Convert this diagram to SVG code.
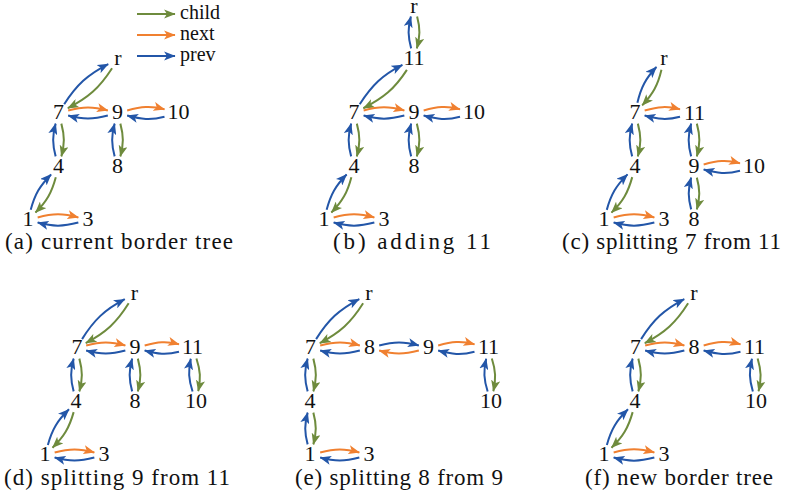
<svg xmlns="http://www.w3.org/2000/svg" width="787" height="502" viewBox="0 0 787 502" font-family="'Liberation Serif', 'Times New Roman', serif">
<style>
.g{fill:none;stroke:#6e8b3d;stroke-width:2;marker-end:url(#mg)}
.o{fill:none;stroke:#f08030;stroke-width:2;marker-end:url(#mo)}
.b{fill:none;stroke:#2356a8;stroke-width:2;marker-end:url(#mb)}
text{font-size:22px;fill:#111}
.n text{text-anchor:middle}
.leg{font-size:20px}
.cap{font-size:23px}
</style>
<defs>
<marker id="mg" viewBox="0 0 10 8" refX="9.5" refY="4" markerWidth="11.5" markerHeight="9.2" markerUnits="userSpaceOnUse" orient="auto"><path d="M0,0 L10,4 L0,8 L2.5,4 z" fill="#6e8b3d"/></marker>
<marker id="mo" viewBox="0 0 10 8" refX="9.5" refY="4" markerWidth="11.5" markerHeight="9.2" markerUnits="userSpaceOnUse" orient="auto"><path d="M0,0 L10,4 L0,8 L2.5,4 z" fill="#f08030"/></marker>
<marker id="mb" viewBox="0 0 10 8" refX="9.5" refY="4" markerWidth="11.5" markerHeight="9.2" markerUnits="userSpaceOnUse" orient="auto"><path d="M0,0 L10,4 L0,8 L2.5,4 z" fill="#2356a8"/></marker>
</defs>

<g id="legend">
<line class="g" x1="137" y1="14" x2="175" y2="14"/>
<line class="o" x1="137" y1="35" x2="175" y2="35"/>
<line class="b" x1="137" y1="56" x2="175" y2="56"/>
<text class="leg" x="180" y="19">child</text>
<text class="leg" x="180" y="40">next</text>
<text class="leg" x="180" y="61">prev</text>
</g>

<g id="connectors">
<!-- panel a -->
<g transform="translate(58.5,113) rotate(-42.2)"><path class="b" d="M10.14,-2.72 C32.68,-8.76 47.19,-8.89 69.72,-2.85"/><path class="g" d="M69.72,2.85 C47.19,8.89 32.68,8.76 10.14,2.72"/></g>
<g transform="translate(58.5,113)"><path class="o" d="M9.66,-2.59 C24.66,-6.61 34.34,-6.61 49.34,-2.59"/><path class="b" d="M49.34,2.59 C34.34,6.61 24.66,6.61 9.66,2.59"/></g>
<g transform="translate(117.5,113)"><path class="o" d="M9.66,-2.59 C23.77,-6.37 32.88,-7.54 46.99,-3.76"/><path class="b" d="M46.99,3.76 C32.88,7.54 23.77,6.37 9.66,2.59"/></g>
<g transform="translate(58.5,113) rotate(90)"><path class="g" d="M10.63,-2.85 C23.01,-6.17 30.99,-6.17 43.37,-2.85"/><path class="b" d="M43.37,2.85 C30.99,6.17 23.01,6.17 10.63,2.85"/></g>
<g transform="translate(117.5,113) rotate(90)"><path class="g" d="M10.63,-2.85 C23.01,-6.17 30.99,-6.17 43.37,-2.85"/><path class="b" d="M43.37,2.85 C30.99,6.17 23.01,6.17 10.63,2.85"/></g>
<g transform="translate(58.5,167) rotate(119.9)"><path class="g" d="M10.14,-2.72 C25.58,-6.86 35.52,-6.86 50.96,-2.72"/><path class="b" d="M50.96,2.72 C35.52,6.86 25.58,6.86 10.14,2.72"/></g>
<g transform="translate(28,220)"><path class="o" d="M9.66,-2.59 C25.05,-6.72 34.95,-6.72 50.34,-2.59"/><path class="b" d="M50.34,2.59 C34.95,6.72 25.05,6.72 9.66,2.59"/></g>
<!-- panel b -->
<g transform="translate(414,59) rotate(-90)"><path class="b" d="M10.63,-2.85 C22.64,-6.07 30.39,-6.33 42.41,-3.11"/><path class="g" d="M42.41,3.11 C30.39,6.33 22.64,6.07 10.63,2.85"/></g>
<g transform="translate(354,113) rotate(-42)"><path class="b" d="M10.14,-2.72 C32.08,-8.60 46.20,-9.25 68.14,-3.37"/><path class="g" d="M68.14,3.37 C46.20,9.25 32.08,8.60 10.14,2.72"/></g>
<g transform="translate(354,113)"><path class="o" d="M9.66,-2.59 C25.05,-6.72 34.95,-6.72 50.34,-2.59"/><path class="b" d="M50.34,2.59 C34.95,6.72 25.05,6.72 9.66,2.59"/></g>
<g transform="translate(414,113)"><path class="o" d="M9.66,-2.59 C23.40,-6.27 32.26,-7.44 45.99,-3.76"/><path class="b" d="M45.99,3.76 C32.26,7.44 23.40,6.27 9.66,2.59"/></g>
<g transform="translate(354,113) rotate(90)"><path class="g" d="M10.63,-2.85 C23.01,-6.17 30.99,-6.17 43.37,-2.85"/><path class="b" d="M43.37,2.85 C30.99,6.17 23.01,6.17 10.63,2.85"/></g>
<g transform="translate(414,113) rotate(90)"><path class="g" d="M10.63,-2.85 C23.01,-6.17 30.99,-6.17 43.37,-2.85"/><path class="b" d="M43.37,2.85 C30.99,6.17 23.01,6.17 10.63,2.85"/></g>
<g transform="translate(354,167) rotate(119.5)"><path class="g" d="M10.14,-2.72 C25.50,-6.84 35.40,-6.84 50.76,-2.72"/><path class="b" d="M50.76,2.72 C35.40,6.84 25.50,6.84 10.14,2.72"/></g>
<g transform="translate(324,220)"><path class="o" d="M9.66,-2.59 C25.05,-6.72 34.95,-6.72 50.34,-2.59"/><path class="b" d="M50.34,2.59 C34.95,6.72 25.05,6.72 9.66,2.59"/></g>
<!-- panel c -->
<g transform="translate(635,113) rotate(-61.8)"><path class="b" d="M10.14,-2.72 C25.47,-6.83 35.34,-6.96 50.67,-2.85"/><path class="g" d="M50.67,2.85 C35.34,6.96 25.47,6.83 10.14,2.72"/></g>
<g transform="translate(635,113)"><path class="o" d="M9.66,-2.59 C23.02,-6.17 31.63,-7.34 44.99,-3.76"/><path class="b" d="M44.99,3.76 C31.63,7.34 23.02,6.17 9.66,2.59"/></g>
<g transform="translate(694,113) rotate(90)"><path class="g" d="M10.63,-2.85 C23.01,-6.17 30.99,-6.17 43.37,-2.85"/><path class="b" d="M43.37,2.85 C30.99,6.17 23.01,6.17 10.63,2.85"/></g>
<g transform="translate(694,167)"><path class="o" d="M9.66,-2.59 C23.40,-6.27 32.26,-7.44 45.99,-3.76"/><path class="b" d="M45.99,3.76 C32.26,7.44 23.40,6.27 9.66,2.59"/></g>
<g transform="translate(694,167) rotate(90)"><path class="g" d="M10.63,-2.85 C22.63,-6.07 30.37,-6.07 42.37,-2.85"/><path class="b" d="M42.37,2.85 C30.37,6.07 22.63,6.07 10.63,2.85"/></g>
<g transform="translate(635,113) rotate(90)"><path class="g" d="M10.63,-2.85 C23.01,-6.17 30.99,-6.17 43.37,-2.85"/><path class="b" d="M43.37,2.85 C30.99,6.17 23.01,6.17 10.63,2.85"/></g>
<g transform="translate(635,167) rotate(120.3)"><path class="g" d="M10.14,-2.72 C25.69,-6.89 35.71,-6.89 51.26,-2.72"/><path class="b" d="M51.26,2.72 C35.71,6.89 25.69,6.89 10.14,2.72"/></g>
<g transform="translate(604,220)"><path class="o" d="M9.66,-2.59 C25.05,-6.72 34.95,-6.72 50.34,-2.59"/><path class="b" d="M50.34,2.59 C34.95,6.72 25.05,6.72 9.66,2.59"/></g>
<!-- panel d -->
<g transform="translate(76.5,348) rotate(-42.95)"><path class="b" d="M10.14,-2.72 C32.26,-8.65 46.50,-8.78 68.62,-2.85"/><path class="g" d="M68.62,2.85 C46.50,8.78 32.26,8.65 10.14,2.72"/></g>
<g transform="translate(76.5,348)"><path class="o" d="M9.66,-2.59 C24.48,-6.56 34.02,-6.56 48.84,-2.59"/><path class="b" d="M48.84,2.59 C34.02,6.56 24.48,6.56 9.66,2.59"/></g>
<g transform="translate(135,348)"><path class="o" d="M9.66,-2.59 C22.64,-6.07 31.01,-7.24 43.99,-3.76"/><path class="b" d="M43.99,3.76 C31.01,7.24 22.64,6.07 9.66,2.59"/></g>
<g transform="translate(135,348) rotate(90)"><path class="g" d="M10.63,-2.85 C23.01,-6.17 30.99,-6.17 43.37,-2.85"/><path class="b" d="M43.37,2.85 C30.99,6.17 23.01,6.17 10.63,2.85"/></g>
<g transform="translate(193,348) rotate(86.8)"><path class="g" d="M10.63,-2.85 C23.01,-6.17 30.99,-6.17 43.37,-2.85"/><path class="b" d="M43.37,2.85 C30.99,6.17 23.01,6.17 10.63,2.85"/></g>
<g transform="translate(76.5,348) rotate(90)"><path class="g" d="M10.63,-2.85 C23.01,-6.17 30.99,-6.17 43.37,-2.85"/><path class="b" d="M43.37,2.85 C30.99,6.17 23.01,6.17 10.63,2.85"/></g>
<g transform="translate(76.5,402) rotate(120.7)"><path class="g" d="M10.14,-2.72 C25.78,-6.91 35.87,-6.91 51.51,-2.72"/><path class="b" d="M51.51,2.72 C35.87,6.91 25.78,6.91 10.14,2.72"/></g>
<g transform="translate(45,455)"><path class="o" d="M9.66,-2.59 C24.66,-6.61 34.34,-6.61 49.34,-2.59"/><path class="b" d="M49.34,2.59 C34.34,6.61 24.66,6.61 9.66,2.59"/></g>
<!-- panel e -->
<g transform="translate(310.5,348) rotate(-42.7)"><path class="b" d="M10.14,-2.72 C32.39,-8.68 46.73,-8.81 68.97,-2.85"/><path class="g" d="M68.97,2.85 C46.73,8.81 32.39,8.68 10.14,2.72"/></g>
<g transform="translate(310.5,348)"><path class="o" d="M9.66,-2.59 C24.66,-6.61 34.34,-6.61 49.34,-2.59"/><path class="b" d="M49.34,2.59 C34.34,6.61 24.66,6.61 9.66,2.59"/></g>
<g transform="translate(369.5,348)"><path class="b" d="M9.66,-2.59 C24.66,-6.61 34.34,-6.61 49.34,-2.59"/><path class="o" d="M49.34,2.59 C34.34,6.61 24.66,6.61 9.66,2.59"/></g>
<g transform="translate(428.5,348)"><path class="o" d="M9.66,-2.59 C23.40,-6.27 32.26,-7.44 45.99,-3.76"/><path class="b" d="M45.99,3.76 C32.26,7.44 23.40,6.27 9.66,2.59"/></g>
<g transform="translate(488.5,348) rotate(87.35)"><path class="g" d="M10.63,-2.85 C23.01,-6.17 30.99,-6.17 43.37,-2.85"/><path class="b" d="M43.37,2.85 C30.99,6.17 23.01,6.17 10.63,2.85"/></g>
<g transform="translate(310.5,348) rotate(90)"><path class="g" d="M10.63,-2.85 C23.01,-6.17 30.99,-6.17 43.37,-2.85"/><path class="b" d="M43.37,2.85 C30.99,6.17 23.01,6.17 10.63,2.85"/></g>
<g transform="translate(310.5,402) rotate(90)"><path class="g" d="M10.63,-2.85 C22.63,-6.07 30.37,-6.07 42.37,-2.85"/><path class="b" d="M42.37,2.85 C30.37,6.07 22.63,6.07 10.63,2.85"/></g>
<g transform="translate(310.5,455)"><path class="o" d="M9.66,-2.59 C24.48,-6.56 34.02,-6.56 48.84,-2.59"/><path class="b" d="M48.84,2.59 C34.02,6.56 24.48,6.56 9.66,2.59"/></g>
<!-- panel f -->
<g transform="translate(635.5,348) rotate(-42.7)"><path class="b" d="M10.14,-2.72 C32.39,-8.68 46.73,-8.81 68.97,-2.85"/><path class="g" d="M68.97,2.85 C46.73,8.81 32.39,8.68 10.14,2.72"/></g>
<g transform="translate(635.5,348)"><path class="o" d="M9.66,-2.59 C24.48,-6.56 34.02,-6.56 48.84,-2.59"/><path class="b" d="M48.84,2.59 C34.02,6.56 24.48,6.56 9.66,2.59"/></g>
<g transform="translate(694,348)"><path class="o" d="M9.66,-2.59 C23.59,-6.32 32.56,-7.49 46.49,-3.76"/><path class="b" d="M46.49,3.76 C32.56,7.49 23.59,6.32 9.66,2.59"/></g>
<g transform="translate(754.5,348) rotate(88.4)"><path class="g" d="M10.63,-2.85 C23.01,-6.17 30.99,-6.17 43.37,-2.85"/><path class="b" d="M43.37,2.85 C30.99,6.17 23.01,6.17 10.63,2.85"/></g>
<g transform="translate(635.5,348) rotate(90)"><path class="g" d="M10.63,-2.85 C23.01,-6.17 30.99,-6.17 43.37,-2.85"/><path class="b" d="M43.37,2.85 C30.99,6.17 23.01,6.17 10.63,2.85"/></g>
<g transform="translate(635.5,402) rotate(120.7)"><path class="g" d="M10.14,-2.72 C25.78,-6.91 35.87,-6.91 51.51,-2.72"/><path class="b" d="M51.51,2.72 C35.87,6.91 25.78,6.91 10.14,2.72"/></g>
<g transform="translate(604,455)"><path class="o" d="M9.66,-2.59 C25.05,-6.72 34.95,-6.72 50.34,-2.59"/><path class="b" d="M50.34,2.59 C34.95,6.72 25.05,6.72 9.66,2.59"/></g>
</g>

<g class="n">
<g id="a-r"><text x="118" y="65">r</text></g>
<g id="a-7"><text x="58.5" y="119">7</text></g>
<g id="a-9"><text x="117.5" y="119">9</text></g>
<g id="a-10"><text x="178.5" y="119">10</text></g>
<g id="a-4"><text x="58.5" y="173">4</text></g>
<g id="a-8"><text x="117.5" y="173">8</text></g>
<g id="a-1"><text x="28" y="226">1</text></g>
<g id="a-3"><text x="88" y="226">3</text></g>

<g id="b-r"><text x="414" y="13">r</text></g>
<g id="b-11"><text x="414" y="65">11</text></g>
<g id="b-7"><text x="354" y="119">7</text></g>
<g id="b-9"><text x="414" y="119">9</text></g>
<g id="b-10"><text x="474" y="119">10</text></g>
<g id="b-4"><text x="354" y="173">4</text></g>
<g id="b-8"><text x="414" y="173">8</text></g>
<g id="b-1"><text x="324" y="226">1</text></g>
<g id="b-3"><text x="384" y="226">3</text></g>

<g id="c-r"><text x="664" y="65">r</text></g>
<g id="c-7"><text x="635" y="119">7</text></g>
<g id="c-11"><text x="694.5" y="120">11</text></g>
<g id="c-4"><text x="635" y="173">4</text></g>
<g id="c-9"><text x="694" y="173">9</text></g>
<g id="c-10"><text x="754" y="173">10</text></g>
<g id="c-1"><text x="604" y="226">1</text></g>
<g id="c-3"><text x="664" y="226">3</text></g>
<g id="c-8"><text x="694" y="226">8</text></g>

<g id="d-r"><text x="134.5" y="300">r</text></g>
<g id="d-7"><text x="77" y="354">7</text></g>
<g id="d-9"><text x="135" y="354">9</text></g>
<g id="d-11"><text x="192.5" y="354">11</text></g>
<g id="d-4"><text x="76" y="408">4</text></g>
<g id="d-8"><text x="135" y="408">8</text></g>
<g id="d-10"><text x="196" y="408">10</text></g>
<g id="d-1"><text x="45" y="461">1</text></g>
<g id="d-3"><text x="104" y="461">3</text></g>

<g id="e-r"><text x="369" y="300">r</text></g>
<g id="e-7"><text x="310.5" y="354">7</text></g>
<g id="e-8"><text x="369.5" y="354">8</text></g>
<g id="e-9"><text x="428.5" y="354">9</text></g>
<g id="e-11"><text x="488.5" y="354">11</text></g>
<g id="e-4"><text x="310" y="408">4</text></g>
<g id="e-10"><text x="491" y="408">10</text></g>
<g id="e-1"><text x="310" y="461">1</text></g>
<g id="e-3"><text x="369" y="461">3</text></g>

<g id="f-r"><text x="694" y="300">r</text></g>
<g id="f-7"><text x="635.5" y="354">7</text></g>
<g id="f-8"><text x="694" y="354">8</text></g>
<g id="f-11"><text x="754.5" y="354">11</text></g>
<g id="f-4"><text x="635" y="408">4</text></g>
<g id="f-10"><text x="756" y="408">10</text></g>
<g id="f-1"><text x="604" y="461">1</text></g>
<g id="f-3"><text x="664" y="461">3</text></g>
</g>

<g id="captions">
<text class="cap" x="5" y="249" textLength="228" lengthAdjust="spacing">(a) current border tree</text>
<text class="cap" x="333" y="249" textLength="158" lengthAdjust="spacing">(b) adding 11</text>
<text class="cap" x="562" y="249" textLength="219" lengthAdjust="spacing">(c) splitting 7 from 11</text>
<text class="cap" x="4" y="485" textLength="226" lengthAdjust="spacing">(d) splitting 9 from 11</text>
<text class="cap" x="295" y="485" textLength="208" lengthAdjust="spacing">(e) splitting 8 from 9</text>
<text class="cap" x="585" y="485" textLength="188" lengthAdjust="spacing">(f) new border tree</text>
</g>
</svg>
